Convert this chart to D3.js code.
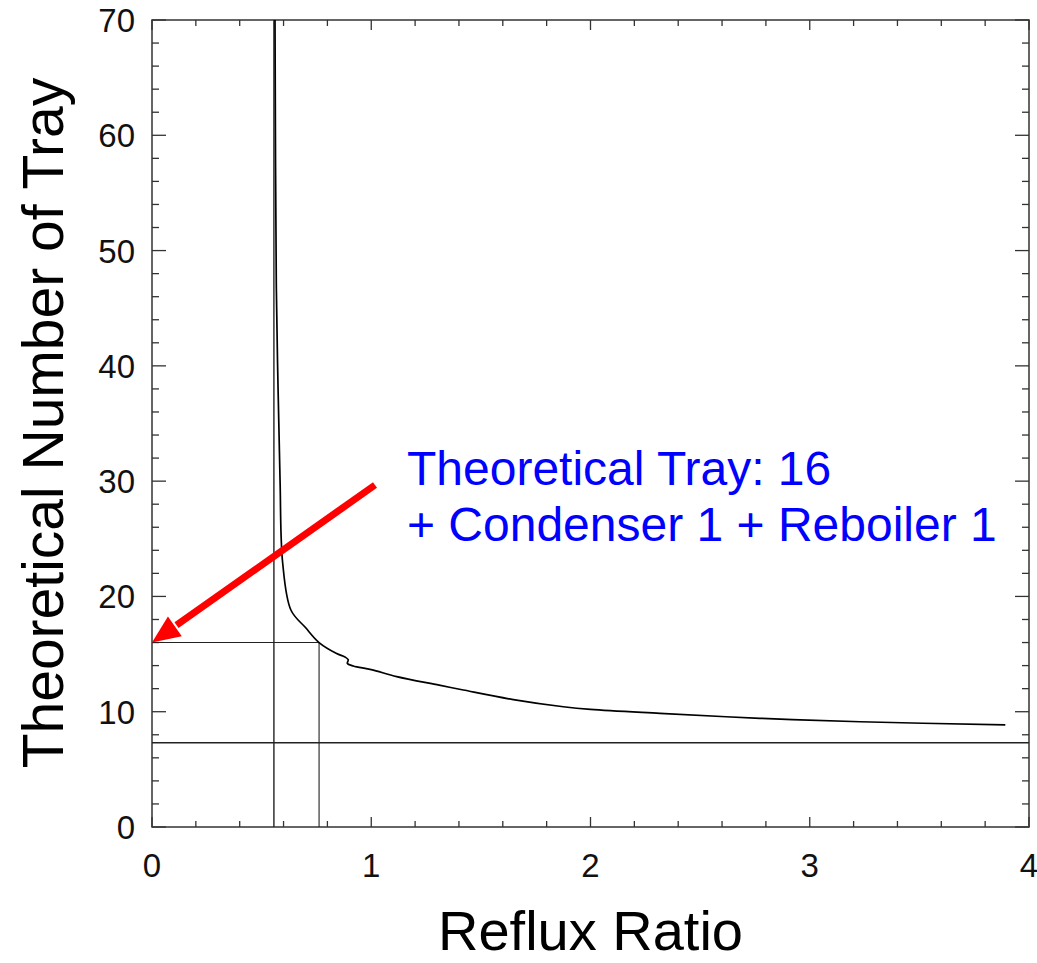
<!DOCTYPE html>
<html>
<head>
<meta charset="utf-8">
<script src="https://cdn.jsdelivr.net/npm/d3@7"></script>
<style>
  body { margin: 0; background: #fff; }
  text { font-family: "Liberation Sans", Arial, sans-serif; }
</style>
</head>
<body>
<svg id="chart" width="1037" height="963"></svg>
<script>
// --- data ---
const refluxRatio = [0.561, 0.567, 0.575, 0.584, 0.596, 0.634, 0.70, 0.762, 0.842, 0.88, 0.895, 0.891, 0.918, 1.0, 1.116, 1.31, 1.42, 1.648, 1.876, 2.0, 2.317, 2.773, 3.23, 3.892];
const trayCount   = [70, 46.9, 38, 30.1, 22.9, 18.8, 17.3, 16.0, 15.05, 14.75, 14.5, 14.2, 13.96, 13.65, 13.04, 12.3, 11.88, 11.05, 10.43, 10.2, 9.86, 9.43, 9.13, 8.85];
const minReflux = 0.556;     // vertical asymptote line
const minTrays = 7.31;       // horizontal asymptote line
const opReflux = 0.762;      // operating reflux
const opTrays = 16;
const xMajor = [0, 1, 2, 3, 4];
const yMajor = [0, 10, 20, 30, 40, 50, 60, 70];
const noteLines = ["Theoretical Tray: 16", "+ Condenser 1 + Reboiler 1"];

// --- setup ---
const svg = d3.select("#chart");
const plotL = 152, plotR = 1029, plotT = 20, plotB = 827;
const x = d3.scaleLinear().domain([0, 4]).range([plotL, plotR]);
const y = d3.scaleLinear().domain([0, 70]).range([plotB, plotT]);

const xMinor = d3.range(0, 4.001, 0.2).filter(v => Math.abs(v - Math.round(v)) > 1e-6);
const yMinor = d3.range(0, 70.001, 2).filter(v => v % 10 !== 0);

// frame
svg.append("rect")
    .attr("x", plotL).attr("y", plotT)
    .attr("width", plotR - plotL).attr("height", plotB - plotT)
    .attr("fill", "none").attr("stroke", "#333").attr("stroke-width", 1.5);

// ticks (inward, all four sides)
const tickG = svg.append("g").attr("stroke", "#333").attr("stroke-width", 1.3);
function xTicks(vals, len) {
    vals.forEach(v => {
        tickG.append("line").attr("x1", x(v)).attr("x2", x(v)).attr("y1", plotB).attr("y2", plotB - len);
        tickG.append("line").attr("x1", x(v)).attr("x2", x(v)).attr("y1", plotT).attr("y2", plotT + len);
    });
}
function yTicks(vals, len) {
    vals.forEach(v => {
        tickG.append("line").attr("x1", plotL).attr("x2", plotL + len).attr("y1", y(v)).attr("y2", y(v));
        tickG.append("line").attr("x1", plotR).attr("x2", plotR - len).attr("y1", y(v)).attr("y2", y(v));
    });
}
xTicks(xMajor, 10);
xTicks(xMinor, 6);
yTicks(yMajor, 14);
yTicks(yMinor, 7);

// tick labels
svg.append("g").selectAll("text").data(xMajor).enter().append("text")
    .attr("x", d => x(d)).attr("y", 877)
    .attr("text-anchor", "middle").attr("font-size", 33).attr("fill", "#111")
    .text(d => d);
svg.append("g").selectAll("text").data(yMajor).enter().append("text")
    .attr("x", 135).attr("y", d => y(d) + 12)
    .attr("text-anchor", "end").attr("font-size", 33).attr("fill", "#111")
    .text(d => d);

// axis titles
svg.append("text")
    .attr("x", (plotL + plotR) / 2).attr("y", 950)
    .attr("text-anchor", "middle").attr("font-size", 56).attr("fill", "#000")
    .text("Reflux Ratio");
svg.append("text")
    .attr("transform", "translate(63,423) rotate(-90)")
    .attr("text-anchor", "middle").attr("font-size", 57).attr("fill", "#000")
    .text("Theoretical Number of Tray");

// reference lines
const refG = svg.append("g").attr("stroke", "#222").attr("stroke-width", 1.4).attr("fill", "none");
refG.append("line").attr("x1", x(0)).attr("x2", x(4)).attr("y1", y(minTrays)).attr("y2", y(minTrays));
refG.append("line").attr("x1", x(minReflux)).attr("x2", x(minReflux)).attr("y1", y(0)).attr("y2", y(70));
refG.append("line").attr("x1", x(0)).attr("x2", x(opReflux)).attr("y1", y(opTrays)).attr("y2", y(opTrays)).attr("stroke-width", 1.1);
refG.append("line").attr("x1", x(opReflux)).attr("x2", x(opReflux)).attr("y1", y(opTrays)).attr("y2", y(0)).attr("stroke-width", 1.1);

// curve
const line = d3.line()
    .x((d, i) => x(refluxRatio[i]))
    .y(d => y(d))
    .curve(d3.curveCatmullRom.alpha(0.5));
svg.append("path")
    .datum(trayCount)
    .attr("d", line)
    .attr("fill", "none").attr("stroke", "#000").attr("stroke-width", 1.7);

// red arrow
const tipX = x(0), tipY = y(opTrays);
const ang = Math.atan2(485 - tipY, 375 - tipX);
const headL = 28, headW = 12;
const baseX = tipX + headL * Math.cos(ang), baseY = tipY + headL * Math.sin(ang);
svg.append("line")
    .attr("x1", 375).attr("y1", 485)
    .attr("x2", baseX + 2 * Math.cos(ang)).attr("y2", baseY + 2 * Math.sin(ang))
    .attr("stroke", "#ff0000").attr("stroke-width", 7);
const px = -Math.sin(ang) * headW, py = Math.cos(ang) * headW;
svg.append("path")
    .attr("d", `M${tipX},${tipY} L${baseX + px},${baseY + py} L${baseX - px},${baseY - py} Z`)
    .attr("fill", "#ff0000");

// note
svg.append("text")
    .attr("x", 407).attr("y", 485)
    .attr("font-size", 48).attr("fill", "#0000ff")
    .selectAll("tspan").data(noteLines).enter().append("tspan")
    .attr("x", 407).attr("dy", (d, i) => i === 0 ? 0 : 56)
    .text(d => d);
</script>
</body>
</html>
